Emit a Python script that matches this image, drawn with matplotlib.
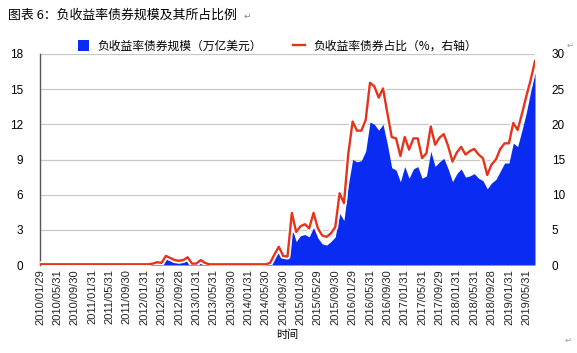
import matplotlib
matplotlib.use("Agg")
import matplotlib.pyplot as plt
import matplotlib.patheffects as pe
from matplotlib.patches import Patch
from matplotlib.lines import Line2D
import numpy as np

plt.rcParams['font.family'] = ['Noto Sans CJK SC', 'DejaVu Sans']

# Monthly data 2010/01 .. 2019/07
months = [f"{y}/{m:02d}" for y in range(2010, 2020) for m in range(1, 13)][:115]

amount = ([0.0] * 26 +
          [0.05, 0.15, 0.1, 0.5, 0.4, 0.25, 0.2, 0.25, 0.4, 0.05, 0.05, 0.3, 0.1] +
          [0.02] * 14 +
          [0.1, 0.6, 1.1, 0.6, 0.6, 3.2, 2.0, 2.5, 2.6, 2.4, 3.2, 2.3, 1.8, 1.7, 2.0, 2.4,
           4.4, 3.8, 6.8, 9.0, 8.8, 8.9, 9.7, 12.2, 12.0, 11.5, 12.0, 10.3, 8.3, 8.1, 7.1,
           8.4, 7.4, 8.2, 8.4, 7.4, 7.6, 9.7, 8.4, 8.8, 9.1, 8.2, 7.1, 7.8, 8.2, 7.5, 7.6,
           7.8, 7.4, 7.2, 6.5, 7.0, 7.3, 8.0, 8.7, 8.7, 10.4, 10.1, 11.5, 13.0, 14.8, 16.4])

ratio = ([0.1] * 26 +
         [0.2, 0.4, 0.3, 1.3, 1.0, 0.7, 0.6, 0.7, 1.1, 0.2, 0.2, 0.7, 0.3] +
         [0.1] * 14 +
         [0.3, 1.5, 2.6, 1.3, 1.2, 7.4, 4.7, 5.5, 5.8, 5.2, 7.4, 5.2, 4.2, 4.0, 4.5, 5.4,
          10.2, 8.8, 15.8, 20.4, 19.1, 19.1, 20.6, 25.9, 25.4, 23.8, 25.1, 21.6, 18.2, 18.0, 15.5,
          18.2, 16.4, 18.0, 18.0, 15.2, 15.9, 19.7, 17.1, 18.1, 18.6, 16.9, 14.7, 16.0, 16.8, 15.7, 16.2,
          16.5, 15.7, 15.2, 12.8, 14.3, 15.0, 16.5, 17.3, 17.3, 20.2, 19.2, 21.5, 24.0, 26.3, 29.0])

tick_labels = ["2010/01/29", "2010/05/31", "2010/09/30", "2011/01/31", "2011/05/31", "2011/09/30",
               "2012/01/31", "2012/05/31", "2012/09/28", "2013/01/31", "2013/05/31", "2013/09/30",
               "2014/01/31", "2014/05/30", "2014/09/30", "2015/01/30", "2015/05/29", "2015/09/30",
               "2016/01/29", "2016/05/31", "2016/09/30", "2017/01/31", "2017/05/31", "2017/09/29",
               "2018/01/31", "2018/05/31", "2018/09/28", "2019/01/31", "2019/05/31"]

left_ticks = [0, 3, 6, 9, 12, 15, 18]
right_ticks = [0, 5, 10, 15, 20, 25, 30]

blue = '#0a2cf2'
red = '#e5331c'

fig = plt.figure(figsize=(5.77, 3.53), dpi=100)
ax = fig.add_axes([40/577, 1-265/353, 495/577, 211/353])
ax2 = ax.twinx()

x = np.arange(len(months))
ax.fill_between(x, 0, amount, color=blue, linewidth=0, label='负收益率债券规模（万亿美元）')
ax2.plot(x, ratio, color=red, linewidth=1.7, label='负收益率债券占比（%，右轴）',
         path_effects=[pe.Stroke(linewidth=4.3, foreground='white'), pe.Normal()])

ax.set_xlim(0, len(months) - 1)
ax.set_ylim(0, 18)
ax2.set_ylim(0, 30)
ax.set_yticks(left_ticks)
ax2.set_yticks(right_ticks)
ax.set_xticks(x[::4][:len(tick_labels)])
ax.set_xticklabels(tick_labels, rotation=90, fontsize=8, color='#222222', family='Liberation Sans')
ax.tick_params(axis='y', length=0, labelsize=8.5, pad=12)
ax2.tick_params(axis='y', length=0, labelsize=8.5, pad=12)
for lab in ax.get_yticklabels() + ax2.get_yticklabels():
    lab.set_family('Liberation Sans')
ax.tick_params(axis='x', length=0, pad=3)

ax.set_axisbelow(True)
ax.grid(axis='y', color='#c8c8c8', linewidth=0.9)
for s in ['top', 'right', 'bottom']:
    ax.spines[s].set_visible(False)
    ax2.spines[s].set_visible(False)
ax2.spines['left'].set_visible(False)
ax.spines['left'].set_color('#555555')
ax.spines['left'].set_linewidth(1.0)

ax.set_xlabel('时间', fontsize=8, labelpad=3)

handles = [Patch(facecolor=blue, edgecolor='none'), Line2D([0], [0], color=red, linewidth=1.7)]
labels = ['负收益率债券规模（万亿美元）', '负收益率债券占比（%，右轴）']
fig.legend(handles, labels, loc='center', bbox_to_anchor=(277/577, 1-46/353), ncol=2,
           frameon=False, fontsize=8.5, columnspacing=2.6, handlelength=1.0, handleheight=1.0,
           handletextpad=0.7)

fig.text(8/577, 1-15/353, '图表 6：负收益率债券规模及其所占比例', fontsize=9.3, va='center', ha='left')
fig.text(244/577, 1-16/353, '↵', fontsize=6.5, va='center', ha='left', color='#888888',
         family=['DejaVu Sans'])
fig.text(570/577, 1-45/353, '↵', fontsize=6, va='center', ha='center', color='#999999',
         family=['DejaVu Sans'])
fig.text(568/577, 1-340/353, '↵', fontsize=6, va='center', ha='center', color='#999999',
         family=['DejaVu Sans'])

fig.savefig('out.png', dpi=100, facecolor='white')
